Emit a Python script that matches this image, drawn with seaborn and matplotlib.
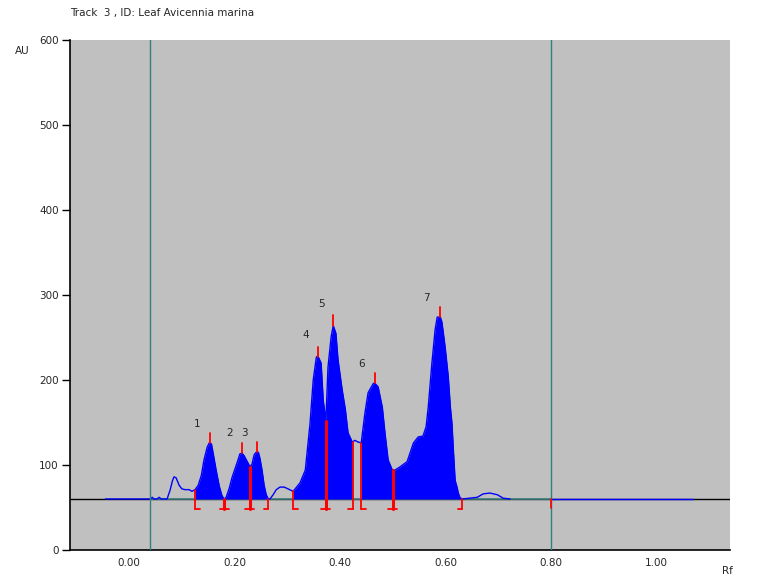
import matplotlib
matplotlib.use("Agg")
import matplotlib.pyplot as plt
import numpy as np
import pandas as pd
import seaborn as sns

# densitogram (Rf, AU); segment 1 is the scanned track,
# segment 2 the flat trace after the solvent front
rf = [-0.045, 0.021, 0.040, 0.044, 0.047, 0.053, 0.057, 0.061, 0.072, 0.078, 0.082, 0.085, 0.089, 0.095,
      0.100, 0.106, 0.114, 0.119, 0.125, 0.131, 0.137, 0.142, 0.148, 0.152, 0.156, 0.159, 0.165, 0.171,
      0.176, 0.180, 0.184, 0.190, 0.195, 0.201, 0.207, 0.210, 0.214, 0.218, 0.224, 0.229, 0.233, 0.237,
      0.241, 0.245, 0.248, 0.252, 0.256, 0.260, 0.264, 0.267, 0.273, 0.279, 0.286, 0.294, 0.301, 0.311,
      0.324, 0.334, 0.343, 0.349, 0.355, 0.358, 0.364, 0.368, 0.373, 0.377, 0.383, 0.387, 0.392, 0.396,
      0.404, 0.410, 0.415, 0.423, 0.428, 0.434, 0.440, 0.447, 0.453, 0.463, 0.466, 0.472, 0.480, 0.485,
      0.491, 0.499, 0.504, 0.514, 0.527, 0.539, 0.548, 0.557, 0.563, 0.567, 0.574, 0.580, 0.584, 0.590,
      0.593, 0.599, 0.605, 0.609, 0.612, 0.615, 0.618, 0.622, 0.624, 0.627, 0.631, 0.646, 0.660, 0.671,
      0.684, 0.698, 0.709, 0.722, 0.800, 1.069]
au = [60, 60, 60, 62, 60, 60, 62, 60, 60, 71, 81, 86, 85, 76,
      72, 71, 71, 69, 71, 76, 88, 106, 121, 126, 125, 115, 94, 75,
      64, 60, 62, 73, 85, 96, 107, 113, 114, 111, 104, 98, 101, 112,
      115, 115, 108, 94, 76, 65, 60, 60, 65, 71, 74, 74, 72, 69,
      79, 94, 149, 200, 227, 228, 220, 176, 152, 215, 251, 264, 255, 224,
      188, 165, 138, 127, 129, 127, 126, 161, 185, 196, 196, 192, 168, 138,
      106, 94, 94, 98, 104, 126, 133, 134, 145, 168, 220, 259, 274, 274,
      268, 239, 204, 168, 149, 114, 82, 73, 67, 62, 60, 61, 62, 66,
      67, 65, 61, 60, 60, 60]
segment = [1] * (len(rf) - 2) + [2, 2]

baseline = 60
# integrated peaks: start, end (Rf) and apex position
peak_ids = ["1", "2", "3", "4", "5", "6", "7"]
peak_start = [0.125, 0.180, 0.229, 0.311, 0.373, 0.440, 0.500]
peak_end = [0.180, 0.229, 0.264, 0.373, 0.424, 0.500, 0.631]
peak_apex = [0.154, 0.214, 0.243, 0.359, 0.387, 0.466, 0.589]
label_rf = [0.129, 0.190, 0.218, 0.334, 0.364, 0.440, 0.563]
label_au = [148, 138, 138, 253, 289, 219, 296]

df = pd.DataFrame({"Rf": rf, "AU": au, "segment": segment})
track = df[df["segment"] == 1]

sns.set_style("white")
plt.rcParams["font.family"] = ["DejaVu Sans"]

fig = plt.figure(figsize=(7.6, 5.87), dpi=100)
ax = fig.add_axes([70 / 760, 37 / 587, 660 / 760, 510 / 587])
ax.set_facecolor("#c0c0c0")

xmin, xmax = -0.112, 1.139
ax.set_xlim(xmin, xmax)
ax.set_ylim(0, 600)

# baseline
ax.plot([xmin, xmax], [baseline, baseline], color="black", lw=1, zorder=1)
ax.plot([0.04, 0.80], [baseline, baseline], color="#408080", lw=1.2, zorder=2)

# filled peak areas
def level(x):
    return np.interp(x, track["Rf"], track["AU"])

for s, e in [(0.125, 0.264), (0.311, 0.424), (0.440, 0.631)]:
    xs = np.linspace(s, e, 300)
    ax.fill_between(xs, baseline, level(xs), color="#0000ff", lw=0, zorder=3)

sns.lineplot(data=df, x="Rf", y="AU", units="segment", estimator=None, sort=False,
             color="#0000ff", lw=1, ax=ax, zorder=4)

# start line and solvent front
ax.axvline(0.04, color="#308080", lw=1, zorder=5)
ax.axvline(0.80, color="#308080", lw=1, zorder=5)
ax.plot([0.80, 0.80], [baseline, 49], color="red", lw=1.2, zorder=6)

# peak boundary markers
low = 48
tick_w = 0.0085
bounds = sorted(set(peak_start) | set(peak_end))
for b in bounds:
    inner = b in peak_start and b in peak_end
    ax.plot([b, b], [low, level(b)], color="red", lw=2.2 if inner else 1.3, zorder=6)
    if inner:
        ax.plot([b - tick_w, b + tick_w], [low, low], color="red", lw=1.3, zorder=6)
    elif b in peak_start:
        ax.plot([b, b + tick_w], [low, low], color="red", lw=1.3, zorder=6)
    else:
        ax.plot([b - tick_w, b], [low, low], color="red", lw=1.3, zorder=6)

for i, p in enumerate(peak_apex):
    top = level(p)
    ax.plot([p, p], [top, top + 12], color="red", lw=1.3, zorder=6)
    ax.text(label_rf[i], label_au[i], peak_ids[i], fontsize=7.5, ha="center", va="center")

# axes styling
for side in ["top", "right"]:
    ax.spines[side].set_visible(False)
ax.spines["left"].set_color("black")
ax.spines["bottom"].set_color("black")
ax.spines["left"].set_linewidth(1.2)
ax.spines["bottom"].set_linewidth(1.2)
ax.set_yticks(range(0, 601, 100))
ax.set_xticks([0.0, 0.2, 0.4, 0.6, 0.8, 1.0])
ax.set_xticklabels(["0.00", "0.20", "0.40", "0.60", "0.80", "1.00"])
ax.tick_params(axis="y", direction="out", length=6, width=1, color="black", labelsize=7.5, pad=2, left=True)
ax.tick_params(axis="x", length=0, labelsize=7.5, pad=6)
ax.set_xlabel("")
ax.set_ylabel("")
ax.grid(False)

fig.text(22 / 760, 1 - 51 / 587, "AU", fontsize=7.5, ha="center", va="center")
fig.text(727 / 760, 1 - 571 / 587, "Rf", fontsize=7.5, ha="center", va="center")
fig.text(70 / 760, 1 - 13 / 587, "Track  3 , ID: Leaf Avicennia marina", fontsize=7.5,
         ha="left", va="center")

fig.savefig("out.png", dpi=100)
